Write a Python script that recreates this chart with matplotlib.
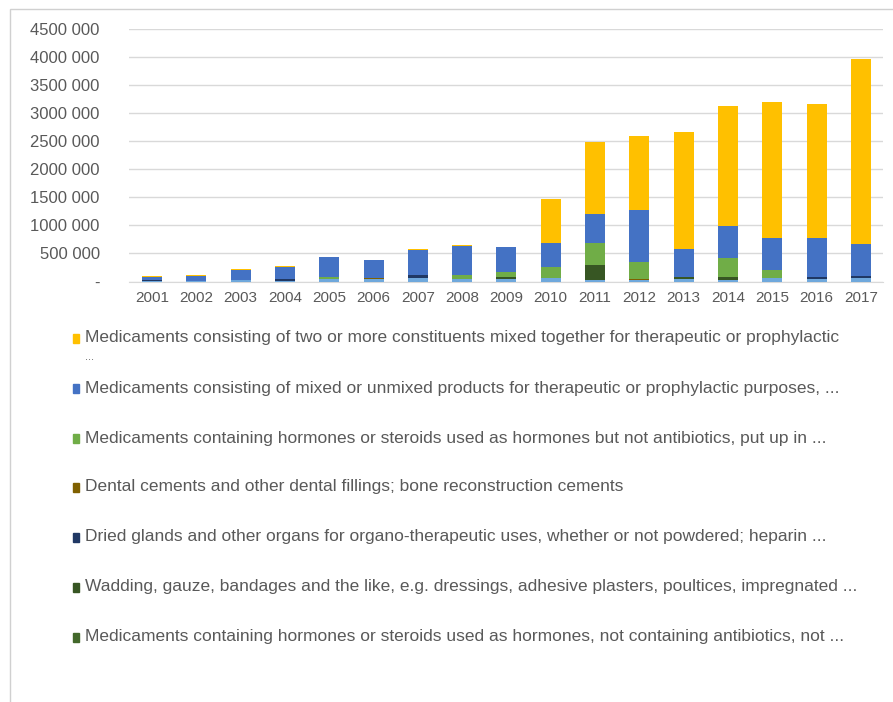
import matplotlib
matplotlib.use("Agg")
import matplotlib.pyplot as plt
from matplotlib.patches import Rectangle
from matplotlib.ticker import FuncFormatter, MultipleLocator
import numpy as np

years = [str(y) for y in range(2001, 2018)]

# values (thousands of units)
mixed_two_or_more = [12, 15, 8, 12, 10, 15, 10, 12, 10, 782, 1268, 1322, 2081, 2134, 2413, 2383, 3290]
mixed_or_unmixed = [65, 90, 190, 210, 356, 318, 458, 528, 445, 427, 528, 931, 498, 563, 575, 694, 563]
hormones_put_up = [0, 0, 0, 0, 30, 0, 0, 71, 83, 184, 385, 302, 0, 350, 148, 0, 0]
dental_cements = [0, 0, 0, 0, 0, 18, 0, 0, 0, 0, 0, 20, 0, 0, 0, 0, 0]
dried_glands = [10, 0, 0, 45, 0, 0, 50, 0, 0, 0, 0, 0, 0, 0, 0, 36, 41]
wadding = [0, 0, 0, 0, 0, 0, 0, 0, 47, 0, 267, 0, 47, 47, 0, 0, 0]
hormones_not_containing = [0] * 17
other = [11, 16, 19, 3, 45, 40, 60, 41, 37, 71, 30, 21, 41, 30, 59, 52, 60]

labels = [
    "Medicaments consisting of two or more constituents mixed together for therapeutic or prophylactic\n...",
    "Medicaments consisting of mixed or unmixed products for therapeutic or prophylactic purposes, ...",
    "Medicaments containing hormones or steroids used as hormones but not antibiotics, put up in ...",
    "Dental cements and other dental fillings; bone reconstruction cements",
    "Dried glands and other organs for organo-therapeutic uses, whether or not powdered; heparin ...",
    "Wadding, gauze, bandages and the like, e.g. dressings, adhesive plasters, poultices, impregnated ...",
    "Medicaments containing hormones or steroids used as hormones, not containing antibiotics, not ...",
]
series = [mixed_two_or_more, mixed_or_unmixed, hormones_put_up, dental_cements,
          dried_glands, wadding, hormones_not_containing]
colors = ["#FFC000", "#4472C4", "#70AD47", "#7F6000", "#203864", "#375623", "#43682B"]
other_color = "#6FA8DC"

W, H = 893, 702
fig = plt.figure(figsize=(W / 100, H / 100), dpi=100)
plt.rcParams['font.family'] = ['Liberation Sans', 'DejaVu Sans']

# outer border
fig.patches.append(Rectangle((10 / W, -0.01), 1.0, 1 - 9 / H + 0.01, transform=fig.transFigure,
                             fill=False, edgecolor="#D0D0D0", linewidth=1.0))

ax = fig.add_axes([129 / W, 1 - 281.5 / H, (883 - 129) / W, (281.5 - 28.7) / H])
x = np.arange(len(years))
bottom = np.zeros(len(years))
vals = np.array(other) * 1000.0
ax.bar(x, vals, 0.45, bottom=bottom, color=other_color, zorder=3)
bottom += vals
for s, c in zip(reversed(series), reversed(colors)):
    v = np.array(s) * 1000.0
    ax.bar(x, v, 0.45, bottom=bottom, color=c, zorder=3)
    bottom += v

ax.set_xlim(-0.52, len(years) - 0.5)
ax.set_ylim(0, 4500000)
ax.yaxis.set_major_locator(MultipleLocator(500000))


def fmt(v, pos):
    if v == 0:
        return "-"
    v = int(round(v))
    return f"{v // 1000} {v % 1000:03d}"


ax.yaxis.set_major_formatter(FuncFormatter(fmt))
ax.set_xticks(x)
ax.set_xticklabels(years)
ax.grid(axis="y", color="#D9D9D9", linewidth=1.0, zorder=0)
for sp in ["top", "right", "left"]:
    ax.spines[sp].set_visible(False)
ax.spines["bottom"].set_color("#D9D9D9")
ax.tick_params(axis="both", length=0, colors="#595959", labelsize=11)
ax.tick_params(axis="y", pad=21, labelsize=12)
ax.tick_params(axis="x", pad=7)

# legend
ys = [338, 388, 438, 487, 537, 587, 637]
for lab, c, yy in zip(labels, colors, ys):
    fig.patches.append(Rectangle((73 / W, 1 - (yy + 4.5) / H), 6 / W, 9 / H,
                                 transform=fig.transFigure, color=c))
    if "\n" in lab:
        first, second = lab.split("\n")
        fig.text(85 / W, 1 - yy / H, first, ha="left", va="center", fontsize=12.5, color="#595959")
        fig.text(85 / W, 1 - (yy + 19) / H, second, ha="left", va="center", fontsize=8, color="#595959")
    else:
        fig.text(85 / W, 1 - yy / H, lab, ha="left", va="center", fontsize=12.5, color="#595959")

fig.savefig("out.png", dpi=100)
